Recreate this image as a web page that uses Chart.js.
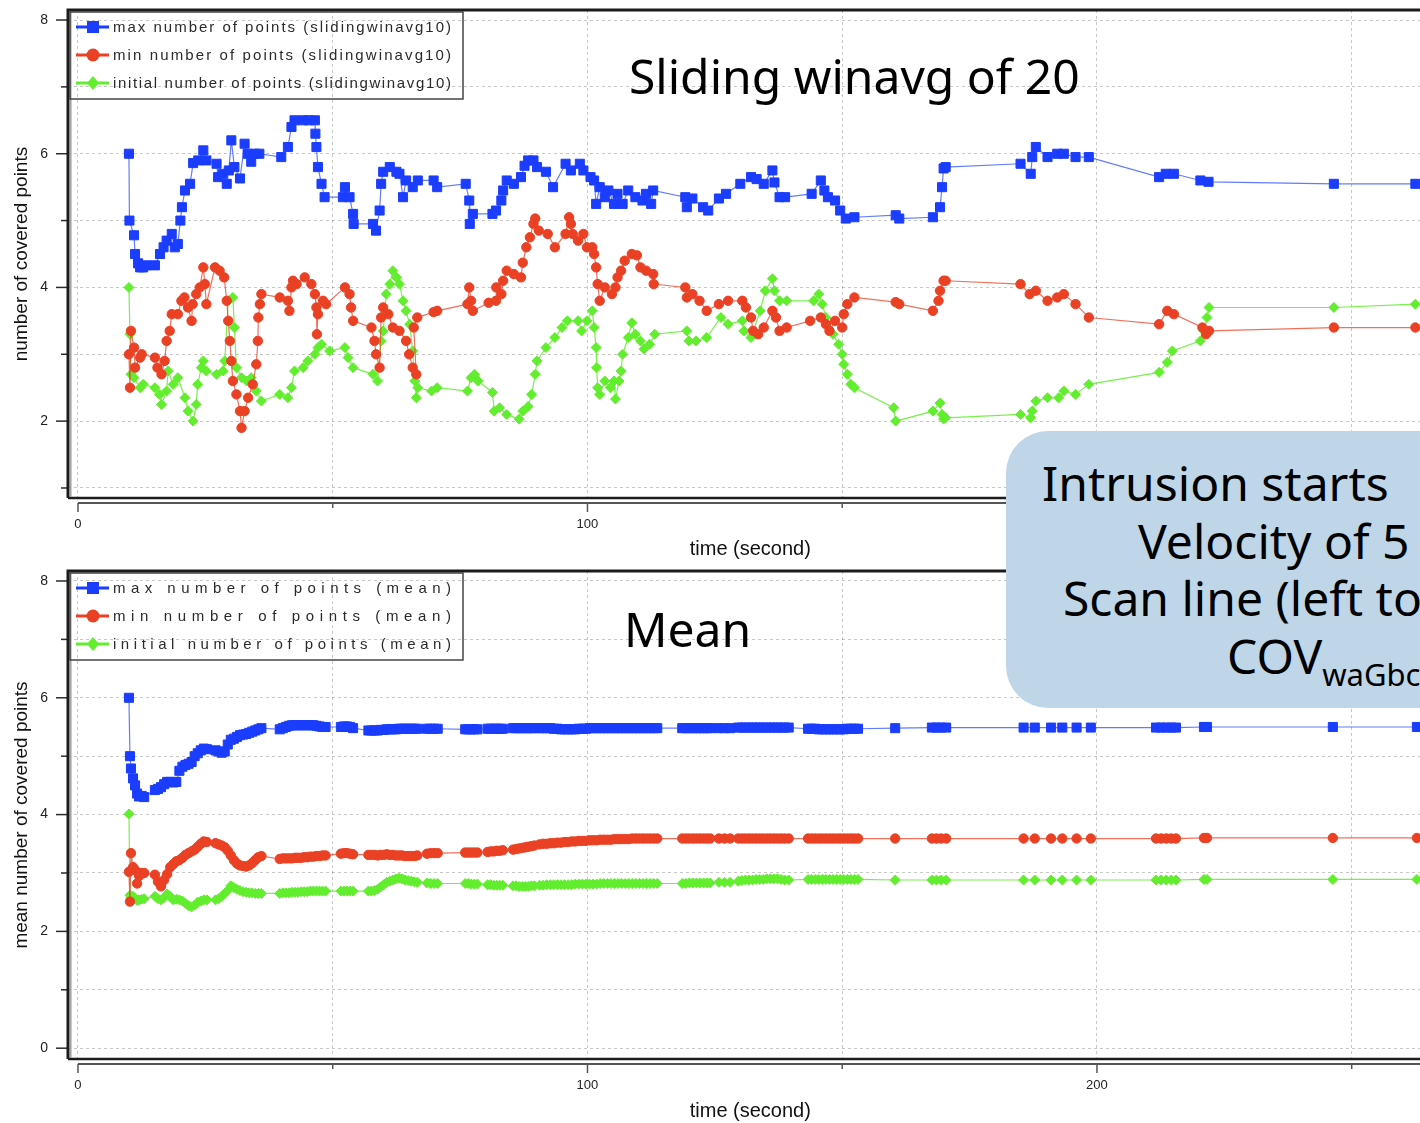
<!DOCTYPE html>
<html>
<head>
<meta charset="utf-8">
<title>Covered points over time</title>
<script src="https://cdn.jsdelivr.net/npm/chart.js@4.4.1/dist/chart.umd.min.js"></script>
<style>
  html, body { margin: 0; padding: 0; background: #fff; overflow: hidden; }
  #page { position: relative; width: 1420px; height: 1123px; overflow: hidden; background: #fff; }
  #page canvas { position: absolute; left: 0; }
  #cTop { top: 0; }
  #cBottom { top: 561px; }
  .note { position: absolute; font-family: 'Noto Sans', sans-serif; font-size: 48px; line-height: 1; color: #000; white-space: nowrap; }
  .note sub { font-size: 31px; vertical-align: -12px; line-height: 1; }
  #callout { position: absolute; left: 1006px; top: 431px; width: 520px; height: 277px; background: #bfd6e8; border-radius: 42px; }
</style>
</head>
<body>
<div id="page">
  <canvas id="cTop" width="1440" height="561"></canvas>
  <canvas id="cBottom" width="1440" height="562"></canvas>
  <div class="note" style="left:629px; top:52px;">Sliding winavg of 20</div>
  <div class="note" style="left:624px; top:605px;">Mean</div>
  <div id="callout"></div>
  <div class="note" style="left:1042px; top:459px;">Intrusion starts</div>
  <div class="note" style="left:1138px; top:517px;">Velocity of 5</div>
  <div class="note" style="left:1063px; top:574px;">Scan line (left to</div>
  <div class="note" style="left:1227px; top:632px;">COV<sub>waGbc</sub></div>
</div>
<script>
// ---------- axis ticks ----------
const xTickValues = [0, 50, 100, 150, 200, 250];
const xTickLabels = ['0', '', '100', '', '200', ''];
const yTickValuesTop = [1, 2, 3, 4, 5, 6, 7, 8];
const yTickLabelsTop = ['', '2', '', '4', '', '6', '', '8'];
const yTickValuesBottom = [0, 1, 2, 3, 4, 5, 6, 7, 8];
const yTickLabelsBottom = ['0', '', '2', '', '4', '', '6', '', '8'];

// ---------- series names ----------
const labelsSliding = [
  'max number of points (slidingwinavg10)',
  'min number of points (slidingwinavg10)',
  'initial number of points (slidingwinavg10)'
];
const labelsMean = [
  'max number of points (mean)',
  'min number of points (mean)',
  'initial number of points (mean)'
];

// ---------- sliding window average: [time, value] ----------
const slideMax = [
  [10,6.0],[10.1,5.0],[11,4.78],[11.2,4.5],[11.8,4.36],[12.2,4.3],[12.8,4.3],[13.4,4.33],[15.1,4.33],[16.1,4.5],
  [16.8,4.6],[17.4,4.7],[18.4,4.8],[19,4.6],[19.6,4.65],[20.1,5.0],[20.4,5.2],[21,5.45],[22,5.55],[22.6,5.86],
  [23.6,5.9],[24.6,6.05],[25.2,5.9],[27.2,5.85],[27.5,5.65],[28.4,5.7],[29.2,5.55],[29.6,5.75],[30.1,6.2],[30.7,5.8],
  [31.8,5.63],[32.7,6.15],[33.3,6.0],[34,5.88],[34.7,6.0],[35.6,6.0],[39.9,5.95],[41.2,6.1],[41.9,6.4],[42.5,6.5],
  [44.2,6.5],[45.3,6.5],[46.5,6.5],[46.6,6.3],[46.8,6.1],[47.1,5.8],[47.8,5.55],[48.4,5.35],[52,5.35],[52.4,5.5],
  [53.3,5.35],[54,5.1],[54.1,4.95],[57.9,4.95],[58.5,4.85],[59.2,5.15],[59.5,5.55],[59.9,5.73],[61.2,5.8],[62.5,5.73],
  [63.1,5.7],[63.8,5.35],[64.4,5.6],[65.7,5.5],[66.7,5.6],[69.8,5.6],[70.5,5.5],[76.1,5.55],[76.8,5.3],[76.9,4.95],
  [77.5,5.1],[81.35,5.1],[82.05,5.15],[83.1,5.3],[83.45,5.45],[84.15,5.6],[85.55,5.55],[86.95,5.65],[87.65,5.82],[88.35,5.9],
  [89.4,5.9],[90.1,5.8],[91.85,5.73],[93.25,5.5],[95.7,5.85],[96.75,5.75],[98.5,5.85],[99.2,5.75],[100.6,5.65],[101.3,5.6],
  [101.7,5.25],[102.4,5.5],[103.4,5.35],[104.1,5.45],[105.2,5.25],[105.9,5.4],[106.9,5.25],[108,5.45],[109.4,5.35],[110.8,5.3],
  [111.5,5.4],[112.5,5.25],[112.9,5.45],[119.2,5.35],[119.5,5.2],[120.6,5.33],[122.7,5.2],[123.7,5.15],[125.8,5.33],[127.2,5.4],
  [130,5.55],[132.1,5.65],[133.2,5.62],[134.6,5.55],[136.3,5.75],[136.7,5.57],[137.7,5.35],[138.8,5.35],[144,5.4],[145.8,5.6],
  [146.5,5.45],[147.2,5.35],[148.6,5.3],[149.6,5.15],[150.7,5.03],[152.4,5.05],[160.5,5.08],[161.2,5.03],[167.8,5.05],[169.2,5.2],
  [169.6,5.5],[169.9,5.78],[170.3,5.8],[185,5.85],[187,5.7],[187.3,5.95],[188,6.1],[190.3,5.95],[192.2,6.0],[193.5,6.0],
  [195.8,5.95],[198.4,5.95],[212.2,5.65],[213.5,5.7],[215.1,5.7],[220.3,5.6],[221.9,5.58],[246.5,5.55],[262.5,5.55]
];
const slideMin = [
  [10,3.0],[10.2,2.5],[10.4,3.35],[11,3.1],[11.2,2.8],[12.2,2.95],[12.5,3.0],[15.1,2.95],[15.6,2.8],[16.4,2.7],
  [17,2.9],[17.4,3.2],[18,3.35],[18.4,3.6],[19.6,3.6],[20.3,3.8],[20.9,3.85],[21.6,3.7],[22.3,3.5],[22.5,3.75],
  [23.2,3.9],[23.9,4.0],[24.6,4.3],[24.9,4.05],[25.2,3.75],[26.9,4.3],[27.8,4.25],[28.7,4.15],[29.2,3.8],[29.5,3.5],
  [29.8,3.2],[30.1,2.9],[30.4,2.6],[31.1,2.4],[31.8,2.15],[32.1,1.9],[32.7,2.15],[33.4,2.35],[34.3,2.55],[35,2.85],
  [35.3,3.2],[35.4,3.55],[35.7,3.75],[36,3.9],[39.6,3.85],[41.2,3.8],[41.5,3.65],[41.9,4.0],[42.2,4.1],[42.9,4.05],
  [44.5,4.15],[45.8,4.05],[46.5,3.9],[46.8,3.7],[46.9,3.3],[47.1,3.6],[48.1,3.8],[48.7,3.75],[52.4,4.0],[53.3,3.9],
  [53.6,3.7],[54,3.5],[57.6,3.4],[58.2,3.2],[58.5,3.0],[59.2,2.8],[59.5,3.55],[59.9,3.7],[60.9,3.6],[61.8,3.4],
  [63.1,3.35],[64.4,3.2],[65,3.0],[65.7,2.8],[66.4,2.7],[65.9,3.4],[66.6,3.55],[69.8,3.63],[70.5,3.65],[76.45,3.75],
  [76.8,4.0],[77.15,3.8],[77.5,3.65],[80.6,3.77],[82.05,3.8],[82.1,4.0],[83.1,3.9],[83.45,4.1],[84.15,4.25],[85.55,4.2],
  [86.95,4.15],[87.3,4.37],[88,4.6],[88.7,4.75],[89.4,4.95],[89.75,5.03],[90.45,4.85],[92.2,4.8],[93.6,4.6],[95.7,4.8],
  [96.4,5.05],[96.75,4.95],[97.1,4.8],[98.15,4.7],[99.2,4.8],[99.9,4.6],[100.95,4.6],[101.3,4.5],[101.7,4.3],[102,4.05],
  [102.4,3.8],[103.4,4.0],[104.8,3.9],[105.5,4.0],[105.9,4.15],[106.6,4.25],[107.3,4.4],[108.7,4.5],[109.7,4.48],[110.4,4.3],
  [111.5,4.25],[112.9,4.2],[113,4.05],[119.2,4.0],[119.5,3.85],[120.6,3.9],[122,3.8],[123.4,3.65],[125.8,3.75],[127.6,3.8],
  [130.4,3.8],[131.1,3.7],[132.1,3.55],[132.5,3.35],[133.5,3.3],[134.6,3.4],[136.3,3.65],[137,3.55],[137.7,3.35],[139.1,3.4],
  [143.7,3.5],[145.8,3.55],[146.8,3.45],[147.5,3.35],[148.6,3.5],[150,3.4],[150.3,3.6],[151,3.75],[152.4,3.85],[160.5,3.78],
  [161.2,3.75],[167.8,3.65],[168.9,3.8],[169.2,3.95],[169.9,4.1],[170.3,4.1],[185,4.05],[186.8,3.9],[188,3.95],[190.3,3.8],
  [192.2,3.85],[193.5,3.9],[195.8,3.75],[198.4,3.55],[212.2,3.45],[213.8,3.65],[215.1,3.6],[220.7,3.4],[221.4,3.3],[222,3.35],
  [246.5,3.4],[262.5,3.4]
];
const slideInit = [
  [10,4.0],[10.2,3.3],[10.4,2.7],[11,2.65],[12.2,2.5],[12.8,2.55],[15.1,2.5],[16,2.4],[16.4,2.25],[17.4,2.45],
  [17.7,2.75],[18.7,2.55],[19.6,2.65],[21,2.35],[21.6,2.15],[22.6,2.0],[23.2,2.25],[23.5,2.55],[24.2,2.8],[24.6,2.9],
  [25.2,2.75],[27.2,2.7],[28.5,2.75],[28.8,2.9],[29.5,3.8],[30.4,3.85],[30.7,3.4],[31.1,2.8],[32.1,2.65],[33.1,2.6],
  [34,2.65],[35,2.45],[36,2.3],[39.6,2.4],[41.2,2.35],[41.9,2.5],[42.5,2.75],[44.2,2.8],[45.1,2.9],[46.5,3.0],
  [47.1,3.1],[47.8,3.15],[49.4,3.05],[52.4,3.1],[53,2.95],[54,2.8],[57.9,2.7],[58.8,2.6],[59.5,3.2],[59.9,3.35],
  [60.2,3.6],[60.5,3.9],[61.2,4.05],[61.8,4.25],[62.5,4.15],[63.1,4.05],[63.8,3.8],[64.4,3.65],[65.1,3.45],[65.7,3.05],
  [66.1,2.6],[66.4,2.35],[66.7,2.5],[69.4,2.45],[70.5,2.5],[76.45,2.45],[77.15,2.65],[77.85,2.7],[78.55,2.6],[81.35,2.43],
  [81.7,2.15],[82.75,2.2],[84.15,2.1],[86.6,2.03],[87.3,2.15],[88.35,2.22],[89.05,2.4],[89.75,2.7],[90.1,2.9],[91.85,3.1],
  [93.6,3.25],[95,3.4],[96.05,3.5],[98.15,3.5],[98.85,3.35],[99.9,3.5],[100.95,3.65],[101.3,3.4],[101.7,3.1],[101.8,2.8],
  [102,2.5],[102.4,2.4],[103.4,2.6],[104.5,2.5],[105.2,2.6],[105.5,2.33],[106.2,2.6],[106.6,2.75],[106.9,3.0],[108,3.25],
  [108.7,3.47],[109.4,3.3],[110.4,3.2],[111.1,3.08],[112.2,3.15],[113.2,3.3],[119.5,3.35],[119.9,3.2],[121.3,3.2],[123.4,3.25],
  [126.2,3.55],[127.6,3.45],[130.4,3.5],[130.7,3.35],[132.1,3.25],[133.9,3.65],[134.9,3.95],[136.3,4.13],[136.7,3.95],[137.7,3.8],
  [139.1,3.8],[144.4,3.8],[145.4,3.9],[146.1,3.75],[146.8,3.55],[148.2,3.3],[149.3,3.15],[150,3.0],[150.3,2.85],[151,2.7],
  [151.7,2.55],[152.4,2.5],[160.1,2.2],[160.5,2.0],[167.8,2.15],[169.2,2.27],[169.6,2.1],[169.9,2.03],[170.3,2.05],[185,2.1],
  [187,2.05],[187.3,2.15],[188,2.3],[190.3,2.35],[192.5,2.35],[193.5,2.45],[195.8,2.4],[198.4,2.55],[212.2,2.73],[213.8,2.88],
  [214.8,3.05],[220.3,3.2],[221,3.35],[221.6,3.55],[222,3.7],[246.5,3.7],[262.5,3.75]
];

// ---------- running mean: shared sample times, one row per burst of samples ----------
const meanTimes = [
  [10, 10.2, 10.4, 10.8, 11.2, 11.6, 12.0, 12.5, 13.0],
  [15.1, 15.7, 16.3, 16.9, 17.5, 18.1, 18.7, 19.3, 19.9, 20.5, 21.1, 21.7, 22.3, 22.9, 23.5, 24.1, 24.7, 25.3,
   27.0, 27.6, 28.2, 28.8, 29.4, 30.0, 30.6, 31.2, 31.8, 32.4, 33.0, 33.6, 34.2, 34.8, 35.4, 36.0],
  [39.6, 40.2, 40.8, 41.4, 42.0, 42.6, 43.2, 43.8, 44.4, 45.0, 45.6, 46.2, 46.8, 47.4, 48.0, 48.6],
  [51.6, 52.2, 52.8, 53.4, 54.0],
  [57.0, 57.6, 58.2, 58.8, 59.4, 60.0, 60.6, 61.2, 61.8, 62.4, 63.0, 63.6, 64.2, 64.8, 65.4, 66.0, 66.6],
  [68.5, 69.2, 69.9, 70.6],
  [76.0, 76.6, 77.2, 77.8, 78.4],
  [80.4, 81.0, 81.6, 82.2, 82.8, 83.4],
  [85.4, 86.0, 86.6, 87.2, 87.8, 88.4, 89.0, 89.6],
  [90.6, 91.3, 92.0, 92.7, 93.4, 94.1, 94.8, 95.5, 96.2, 96.9, 97.6, 98.3, 99.0, 99.7, 100.4, 101.1, 101.8,
   102.5, 103.2, 103.9, 104.6, 105.3, 106.0, 106.7, 107.4, 108.1, 108.8, 109.5, 110.2, 110.9, 111.6, 112.3, 113.0, 113.7],
  [118.6, 119.3, 120.0, 120.7, 121.4, 122.1, 122.8, 123.5, 124.1],
  [125.8, 126.9, 128.0],
  [129.6, 130.3, 131.0, 131.7, 132.4, 133.1, 133.8, 134.5, 135.2, 135.9, 136.6, 137.3, 138.0, 138.7, 139.5],
  [143.3, 144.0, 144.7, 145.4, 146.1, 146.8, 147.5, 148.2, 148.9, 149.6, 150.3, 151.0, 151.7, 152.4, 153.1],
  [160.4, 167.6, 168.5, 169.4, 170.4, 185.6, 187.8, 191.0, 193.2, 196.0, 198.8, 211.6, 212.6, 213.6, 214.6, 215.5,
   221.0, 221.6, 246.3, 262.8]
];
const meanMax = [
  [6.0, 5.0, 4.79, 4.62, 4.5, 4.36, 4.31, 4.32, 4.3],
  [4.42, 4.44, 4.47, 4.52, 4.56, 4.56, 4.55, 4.56, 4.75, 4.82, 4.85, 4.87, 4.9, 5.0, 5.05, 5.1, 5.13, 5.12,
   5.1, 5.08, 5.06, 5.08, 5.2, 5.28, 5.3, 5.33, 5.36, 5.37, 5.38, 5.4, 5.42, 5.44, 5.46, 5.48],
  [5.46, 5.48, 5.5, 5.52, 5.53, 5.53, 5.53, 5.53, 5.53, 5.53, 5.53, 5.53, 5.52, 5.51, 5.5, 5.5],
  [5.5, 5.51, 5.51, 5.5, 5.48],
  [5.44, 5.44, 5.44, 5.44, 5.45, 5.45, 5.46, 5.46, 5.46, 5.46, 5.47, 5.47, 5.47, 5.47, 5.47, 5.47, 5.47],
  [5.47, 5.47, 5.47, 5.47],
  [5.46, 5.46, 5.46, 5.46, 5.46],
  [5.47, 5.47, 5.47, 5.47, 5.47, 5.47],
  [5.48, 5.48, 5.48, 5.48, 5.48, 5.48, 5.48, 5.48],
  [5.48, 5.48, 5.48, 5.48, 5.47, 5.47, 5.46, 5.46, 5.46, 5.46, 5.46, 5.47, 5.47, 5.47, 5.48, 5.48, 5.48,
   5.48, 5.48, 5.48, 5.48, 5.48, 5.48, 5.48, 5.48, 5.48, 5.48, 5.48, 5.48, 5.48, 5.48, 5.48, 5.48, 5.48],
  [5.48, 5.48, 5.48, 5.48, 5.48, 5.48, 5.48, 5.48, 5.48],
  [5.48, 5.48, 5.48],
  [5.49, 5.49, 5.49, 5.49, 5.49, 5.49, 5.49, 5.49, 5.49, 5.49, 5.49, 5.49, 5.49, 5.49, 5.49],
  [5.47, 5.47, 5.47, 5.46, 5.46, 5.46, 5.46, 5.46, 5.46, 5.46, 5.46, 5.47, 5.47, 5.47, 5.47],
  [5.48, 5.49, 5.49, 5.49, 5.49, 5.49, 5.49, 5.49, 5.49, 5.49, 5.49, 5.49, 5.49, 5.49, 5.49, 5.49,
   5.5, 5.5, 5.5, 5.5]
];
const meanMin = [
  [3.02, 2.51, 3.34, 3.1, 3.05, 2.82, 2.95, 3.0, 3.0],
  [2.97, 2.85, 2.77, 2.88, 2.98, 3.1, 3.15, 3.2, 3.22, 3.26, 3.31, 3.34, 3.37, 3.4, 3.45, 3.5, 3.54, 3.53,
   3.51, 3.49, 3.47, 3.44, 3.38, 3.3, 3.22, 3.16, 3.13, 3.12, 3.11, 3.13, 3.17, 3.22, 3.27, 3.29],
  [3.24, 3.25, 3.25, 3.25, 3.25, 3.26, 3.26, 3.26, 3.27, 3.27, 3.28, 3.28, 3.29, 3.29, 3.3, 3.3],
  [3.33, 3.34, 3.34, 3.33, 3.32],
  [3.31, 3.31, 3.31, 3.3, 3.31, 3.31, 3.32, 3.31, 3.31, 3.3, 3.3, 3.3, 3.29, 3.29, 3.29, 3.29, 3.3],
  [3.33, 3.34, 3.34, 3.34],
  [3.35, 3.35, 3.35, 3.35, 3.35],
  [3.36, 3.37, 3.37, 3.38, 3.38, 3.39],
  [3.4, 3.41, 3.42, 3.43, 3.44, 3.45, 3.46, 3.47],
  [3.49, 3.5, 3.5, 3.51, 3.51, 3.52, 3.52, 3.53, 3.53, 3.54, 3.54, 3.55, 3.55, 3.55, 3.56, 3.56, 3.56,
   3.57, 3.57, 3.57, 3.57, 3.58, 3.58, 3.58, 3.58, 3.58, 3.59, 3.59, 3.59, 3.59, 3.59, 3.59, 3.59, 3.59],
  [3.59, 3.59, 3.59, 3.59, 3.59, 3.59, 3.59, 3.59, 3.59],
  [3.59, 3.59, 3.59],
  [3.59, 3.59, 3.59, 3.59, 3.59, 3.59, 3.59, 3.59, 3.59, 3.59, 3.59, 3.59, 3.59, 3.59, 3.59],
  [3.59, 3.59, 3.59, 3.59, 3.59, 3.59, 3.59, 3.59, 3.59, 3.59, 3.59, 3.59, 3.59, 3.59, 3.59],
  [3.59, 3.59, 3.59, 3.59, 3.59, 3.59, 3.59, 3.59, 3.59, 3.59, 3.59, 3.59, 3.59, 3.59, 3.59, 3.59,
   3.6, 3.6, 3.6, 3.6]
];
const meanInit = [
  [4.01, 2.62, 2.58, 2.6, 2.56, 2.53, 2.54, 2.55, 2.56],
  [2.6, 2.56, 2.54, 2.58, 2.64, 2.6, 2.54, 2.55, 2.54, 2.52, 2.48, 2.44, 2.42, 2.45, 2.5, 2.52, 2.54, 2.54,
   2.54, 2.56, 2.6, 2.65, 2.7, 2.78, 2.75, 2.72, 2.7, 2.68, 2.67, 2.66, 2.66, 2.65, 2.65, 2.65],
  [2.65, 2.66, 2.66, 2.66, 2.67, 2.67, 2.67, 2.68, 2.68, 2.68, 2.69, 2.69, 2.69, 2.69, 2.69, 2.69],
  [2.69, 2.69, 2.69, 2.69, 2.69],
  [2.69, 2.69, 2.7, 2.72, 2.76, 2.8, 2.84, 2.86, 2.88, 2.9, 2.91, 2.9, 2.88, 2.87, 2.86, 2.85, 2.84],
  [2.83, 2.82, 2.82, 2.82],
  [2.82, 2.82, 2.81, 2.81, 2.81],
  [2.8, 2.8, 2.79, 2.79, 2.79, 2.79],
  [2.78, 2.78, 2.77, 2.77, 2.77, 2.77, 2.78, 2.78],
  [2.79, 2.79, 2.8, 2.8, 2.8, 2.8, 2.8, 2.8, 2.8, 2.8, 2.81, 2.81, 2.81, 2.81, 2.81, 2.81, 2.81,
   2.82, 2.82, 2.82, 2.82, 2.82, 2.82, 2.82, 2.82, 2.82, 2.82, 2.82, 2.82, 2.82, 2.82, 2.82, 2.82, 2.82],
  [2.82, 2.82, 2.83, 2.83, 2.83, 2.83, 2.83, 2.83, 2.83],
  [2.84, 2.84, 2.84],
  [2.86, 2.87, 2.88, 2.88, 2.88, 2.89, 2.89, 2.89, 2.9, 2.9, 2.9, 2.9, 2.89, 2.88, 2.88],
  [2.89, 2.89, 2.89, 2.89, 2.89, 2.89, 2.89, 2.89, 2.89, 2.89, 2.89, 2.89, 2.89, 2.89, 2.89],
  [2.88, 2.88, 2.88, 2.88, 2.88, 2.88, 2.88, 2.88, 2.88, 2.88, 2.88, 2.88, 2.88, 2.88, 2.88, 2.88,
   2.89, 2.89, 2.89, 2.89]
];

// ---------- look ----------
const SANS = "'Liberation Sans', Arial, sans-serif";
const seriesStyles = [
  { point: '#1b3dff', line: 'rgba(45,80,255,0.75)', shape: 'rect', radius: 6.4 },
  { point: '#ea4124', line: 'rgba(234,65,36,0.75)', shape: 'circle', radius: 4.7 },
  { point: '#62ed2e', line: 'rgba(98,237,46,0.85)', shape: 'rectRot', radius: 5.0 }
];
const X_MIN = -1.96, X_MAX = 265.88;

function pairsToPoints(pairs) { return pairs.map(([x, y]) => ({ x, y })); }
function zipPoints(times, values) {
  const t = times.flat(), v = values.flat();
  return t.map((x, i) => ({ x, y: v[i] }));
}

// plot frame, tick marks and the detached time axis line
const frameAndAxes = {
  id: 'frameAndAxes',
  afterDraw(chart) {
    const { ctx, chartArea: a, scales: { x, y } } = chart;
    const seg = (x1, y1, x2, y2) => { ctx.beginPath(); ctx.moveTo(x1, y1); ctx.lineTo(x2, y2); ctx.stroke(); };
    ctx.save();
    ctx.setLineDash([]);
    ctx.strokeStyle = '#2b2b2b';
    ctx.lineWidth = 1.5;
    y.ticks.forEach(t => {
      const py = y.getPixelForValue(t.value);
      seg(a.left - (t.label ? 12 : 7), py, a.left, py);
    });
    ctx.strokeStyle = '#1c1c1c';
    ctx.lineWidth = 3;
    ctx.beginPath();
    ctx.moveTo(a.left, a.bottom); ctx.lineTo(a.left, a.top); ctx.lineTo(a.right, a.top);
    ctx.stroke();
    ctx.lineWidth = 2.5;
    seg(a.left, a.bottom, a.right, a.bottom);
    ctx.strokeStyle = '#a0a0a0';
    ctx.lineWidth = 1.5;
    seg(a.left + 2.8, a.top + 1.5, a.left + 2.8, a.bottom - 1);
    const ay = a.bottom + 5;
    ctx.strokeStyle = '#555';
    ctx.lineWidth = 2;
    seg(x.getPixelForValue(xTickValues[0]), ay, a.right, ay);
    ctx.lineWidth = 1.5;
    x.ticks.forEach(t => {
      const px = x.getPixelForValue(t.value);
      seg(px, ay, px, ay + (t.label ? 9 : 5));
    });
    ctx.restore();
  }
};

function drawMarker(ctx, shape, cx, cy, r) {
  ctx.beginPath();
  if (shape === 'rect') ctx.rect(cx - r, cy - r, 2 * r, 2 * r);
  else if (shape === 'circle') ctx.arc(cx, cy, r, 0, Math.PI * 2);
  else { ctx.moveTo(cx, cy - r); ctx.lineTo(cx + r * 0.85, cy); ctx.lineTo(cx, cy + r); ctx.lineTo(cx - r * 0.85, cy); ctx.closePath(); }
  ctx.fill();
}

// boxed key in the upper-left corner of the plot, text justified to the box
const seriesKey = {
  id: 'seriesKey',
  afterDraw(chart) {
    const { ctx, chartArea: a } = chart;
    const bx = a.left + 2, by = a.top + 2, bw = 393, bh = 87;
    ctx.save();
    ctx.setLineDash([]);
    ctx.strokeStyle = '#444';
    ctx.lineWidth = 1.5;
    ctx.strokeRect(bx, by, bw, bh);
    ctx.font = '15px ' + SANS;
    ctx.textBaseline = 'middle';
    chart.data.datasets.forEach((ds, i) => {
      const st = seriesStyles[i];
      const cy = by + 15 + 28 * i;
      ctx.strokeStyle = st.point;
      ctx.lineWidth = 3;
      ctx.beginPath(); ctx.moveTo(bx + 6, cy); ctx.lineTo(bx + 39, cy); ctx.stroke();
      ctx.fillStyle = st.point;
      drawMarker(ctx, st.shape, bx + 23, cy, st.shape === 'circle' ? 6.5 : (st.shape === 'rect' ? 6 : 7));
      const chars = [...ds.label];
      const plain = chars.reduce((w, c) => w + ctx.measureText(c).width, 0);
      const gap = (338 - plain) / (chars.length - 1);
      let tx = bx + 43;
      ctx.fillStyle = '#2a2a2a';
      chars.forEach(c => { ctx.fillText(c, tx, cy + 1); tx += ctx.measureText(c).width + gap; });
    });
    ctx.restore();
  }
};

function makeChart(canvasId, cfg) {
  const datasets = cfg.series.map((pts, i) => ({
    label: cfg.labels[i],
    data: pts,
    borderColor: seriesStyles[i].line,
    borderWidth: 1.2,
    backgroundColor: seriesStyles[i].point,
    pointBackgroundColor: seriesStyles[i].point,
    pointBorderColor: seriesStyles[i].point,
    pointBorderWidth: 1,
    pointStyle: seriesStyles[i].shape,
    pointRadius: seriesStyles[i].radius,
    tension: 0,
    fill: false
  }));
  return new Chart(document.getElementById(canvasId), {
    type: 'line',
    data: { datasets },
    options: {
      responsive: false,
      animation: false,
      devicePixelRatio: 1,
      events: [],
      layout: { padding: { top: 10, right: 6, bottom: 0, left: 0 } },
      plugins: { legend: { display: false }, tooltip: { enabled: false } },
      scales: {
        x: {
          type: 'linear', position: 'bottom', min: X_MIN, max: X_MAX,
          afterBuildTicks: s => { s.ticks = xTickValues.map(value => ({ value })); },
          afterFit: s => { s.height = cfg.xAxisHeight; s.paddingLeft = 0; s.paddingRight = 0; },
          grid: { color: 'rgba(0,0,0,0.22)', lineWidth: 1, drawTicks: false },
          border: { display: false, dash: [3, 3] },
          ticks: { autoSkip: false, maxRotation: 0, padding: 19, color: '#222',
                   font: { family: SANS, size: 13 }, callback: (v, i) => xTickLabels[i] },
          title: { display: true, text: 'time (second)', color: '#111',
                   font: { family: SANS, size: 20, lineHeight: 1 }, padding: { top: 0, bottom: 2 } }
        },
        y: {
          type: 'linear', position: 'left', min: cfg.yMin, max: cfg.yMax,
          afterBuildTicks: s => { s.ticks = cfg.yTicks.map(value => ({ value })); },
          afterFit: s => { s.width = 68; s.paddingTop = 0; s.paddingBottom = 0; },
          grid: { color: 'rgba(0,0,0,0.22)', lineWidth: 1, drawTicks: false },
          border: { display: false, dash: [3, 3] },
          ticks: { autoSkip: false, padding: 20, color: '#222',
                   font: { family: SANS, size: 14 }, callback: (v, i) => cfg.yLabels[i] },
          title: { display: true, text: cfg.yTitle, color: '#111',
                   font: { family: SANS, size: 19, lineHeight: 1 }, padding: { top: 12, bottom: 0 } }
        }
      }
    },
    plugins: [frameAndAxes, seriesKey]
  });
}

makeChart('cTop', {
  series: [pairsToPoints(slideMax), pairsToPoints(slideMin), pairsToPoints(slideInit)],
  labels: labelsSliding,
  yMin: 0.85, yMax: 8.15,
  yTicks: yTickValuesTop, yLabels: yTickLabelsTop,
  yTitle: 'number of covered points',
  xAxisHeight: 63
});

makeChart('cBottom', {
  series: [zipPoints(meanTimes, meanMax), zipPoints(meanTimes, meanMin), zipPoints(meanTimes, meanInit)],
  labels: labelsMean,
  yMin: -0.185, yMax: 8.171,
  yTicks: yTickValuesBottom, yLabels: yTickLabelsBottom,
  yTitle: 'mean number of covered points',
  xAxisHeight: 64
});
</script>
</body>
</html>
